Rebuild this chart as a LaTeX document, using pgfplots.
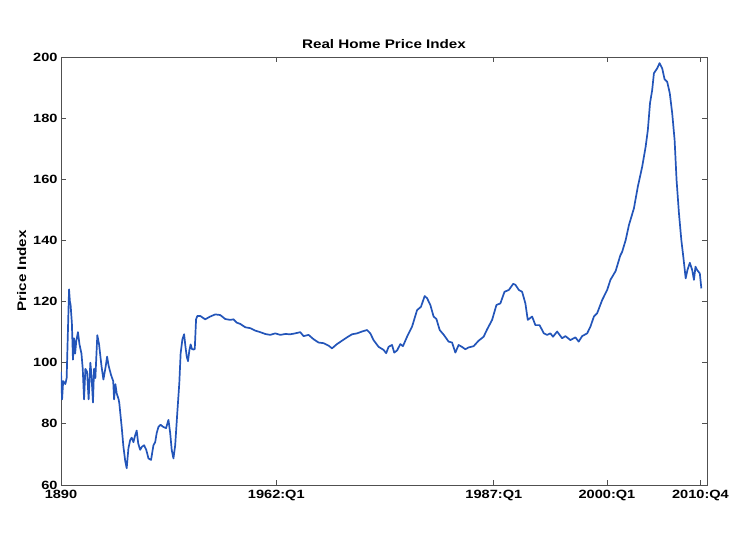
\documentclass[border=0pt]{standalone}
\usepackage{pgfplots}
\pgfplotsset{compat=1.18}
\usepackage{fontspec}
\setmainfont{Liberation Sans}
\newfontfamily\widebold[FakeStretch=1.22]{Liberation Sans Bold}
\definecolor{hpiblue}{RGB}{35,85,185}
\definecolor{axgray}{RGB}{80,80,80}
\begin{document}
\begin{tikzpicture}
\begin{axis}[
  scale only axis,
  width=646bp, height=428bp,
  xmin=0, xmax=297, ymin=60, ymax=200,
  xtick={0,99,199,251,294},
  xticklabels={1890,1962:Q1,1987:Q1,2000:Q1,2010:Q4},
  ytick={60,80,...,200},
  tick align=inside,
  major tick length=5bp,
  axis line style={axgray, line width=0.8bp},
  every tick/.style={axgray, line width=0.8bp},
  /pgf/number format/assume math mode=true,
  tick label style={font=\widebold\fontsize{12}{14}\selectfont},
  xticklabel style={yshift=-2bp},
  title={Real Home Price Index},
  title style={font=\widebold\fontsize{12.5}{15}\selectfont, yshift=-1bp},
  ylabel={Price Index},
  ylabel style={font=\widebold\fontsize{12.5}{15}\selectfont},
]
\addplot[hpiblue, line width=1.7bp, line join=round] coordinates {
(0,97) (0.5,88) (1,94) (2,93) (2.6,95) (3.7,124) (4.1,120) (4.4,119) (5,113) (5.5,101)
(6,108) (6.5,103) (7,107) (7.8,110) (8.5,106) (9.4,103) (10,98) (10.6,88) (11.2,98) (12,97)
(12.7,88) (13.5,100) (14,96) (14.7,87) (15.2,98) (15.8,95) (16.7,109) (17.5,106) (18.6,99) (19.5,94.5)
(20.6,99) (21.2,102) (21.9,99) (23,96) (24,94) (24.4,88) (25,93) (25.6,90) (26.5,88) (26.8,86.8)
(27.9,79) (28.7,72.5) (29.5,68) (30.2,65.5) (31,72) (31.8,74.7) (32.5,75.5) (33.3,74) (34,76) (34.8,77.8)
(35.5,73.6) (36.4,71.5) (37.2,72.5) (38.2,73) (39.2,71.5) (40.2,68.7) (41.4,68.2) (42.5,73) (43.3,74) (44,77)
(44.8,79) (45.8,79.7) (47,79) (48.3,78.6) (49.4,81.3) (50.2,77) (50.9,71.5) (51.7,68.7) (52.5,73) (53.5,84)
(54.4,93.4) (55,103) (55.8,107.6) (56.6,109.3) (57.2,105.4) (57.8,102) (58.4,100.5) (59,104) (59.6,106) (60.2,104.5)
(60.9,104.3) (61.5,104.5) (62.1,114.2) (62.7,115.3) (64,115.3) (66.3,114.2) (68.6,115.1) (70.9,115.8) (73.2,115.6) (75.5,114.3)
(77.8,114) (79.3,114.2) (80.8,113.1) (82.4,112.7) (84.7,111.6) (87,111.3) (89.3,110.5) (91.6,110) (93.9,109.4) (96.2,109.1)
(98.5,109.6) (100.8,109.1) (103.1,109.4) (105.4,109.3) (107.7,109.6) (110,110) (111.5,108.7) (113.8,109.1) (116.1,107.7) (118.4,106.6)
(120.7,106.4) (123,105.6) (124.6,104.7) (126.9,106.1) (129.2,107.2) (131.5,108.3) (133.8,109.3) (136.1,109.6) (138.4,110.2) (140.7,110.7)
(142.2,109.6) (143.7,107.4) (146,105.2) (148.3,104.2) (149.5,103.1) (150.6,105.2) (152.2,105.8) (153.2,103.3) (154.5,104) (156,106.1)
(157.2,105.4) (159.1,108.5) (161.4,111.8) (163.7,117.2) (165.5,118.3) (167.2,121.8) (168.3,121.1) (169.8,118.9) (171.3,115.1) (172.6,114.3)
(174.1,110.7) (176,109.1) (178.2,106.9) (179.8,106.6) (181.3,103.3) (182.8,105.8) (184.3,105.2) (185.9,104.4) (187.4,105) (189.7,105.4)
(192,107.2) (194.3,108.5) (195.9,110.9) (198.2,114) (200.2,118.9) (202,119.4) (203.9,123.2) (205.9,123.8) (207.9,125.8) (208.9,125.5)
(210.5,123.8) (212,123.2) (213.5,119.4) (214.6,114) (216.6,115.1) (218.1,112.3) (220,112.3) (222,109.6) (223.5,109.1) (225,109.6)
(226.2,108.5) (228.1,110.2) (230.4,108) (231.9,108.7) (234.2,107.4) (236.5,108.3) (238,106.9) (239.6,108.7) (241.9,109.6) (243.4,111.8)
(245,115.1) (246.5,116.2) (248.8,120.5) (251.1,123.8) (252.6,127.1) (255,130) (257.1,135) (258,136.3) (259.6,140.1) (261.1,145)
(263.4,150.5) (265.2,157.6) (267.2,164.1) (268.8,170.7) (269.8,176.1) (270.8,184.9) (271.8,189.2) (272.6,194.7) (274.1,196.3) (275.2,198)
(276.4,196.3) (277.5,192.7) (278.7,191.9) (279.9,188.1) (281,181.6) (282.1,172.9) (283,159.8) (284.1,148.9) (285.2,140.1) (286.1,134.7)
(287.2,127.6) (288,130.3) (289.1,132.7) (290.2,130.3) (291,127.1) (291.7,131.4) (292.5,130.3) (293.7,129.2) (294.4,124.3)
};
\end{axis}
\pgfresetboundingbox
\path[use as bounding box] ([shift={(-61bp,-52bp)}]current axis.south west) rectangle ([shift={(45bp,57bp)}]current axis.north east);
\end{tikzpicture}
\end{document}
